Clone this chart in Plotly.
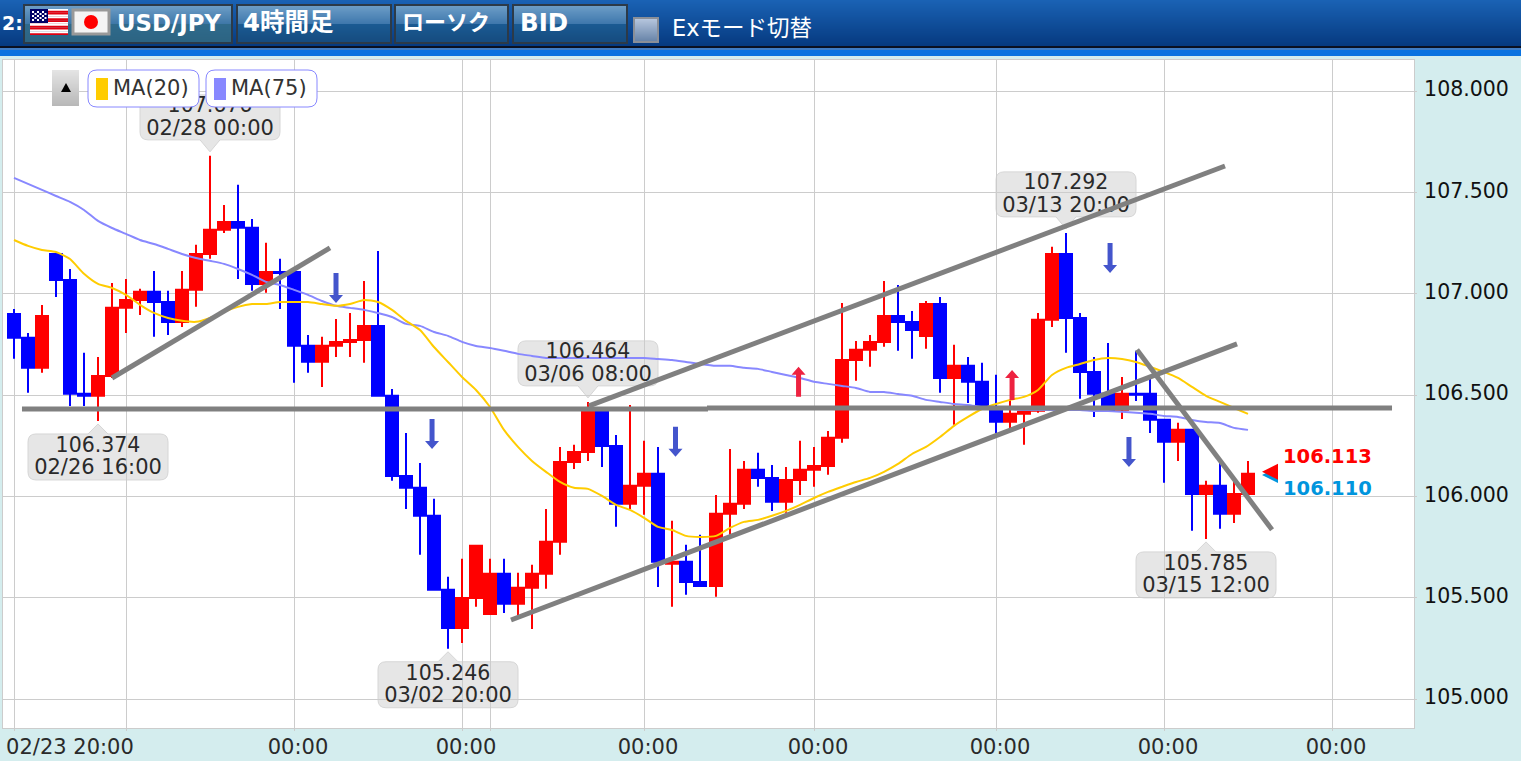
import plotly.graph_objects as go

# ---------- data ----------
HIGH = [106.925,106.806,106.944,107.201,107.122,106.708,106.688,107.053,107.073,107.024,
        107.112,107.014,107.112,107.241,107.680,107.438,107.537,107.369,107.251,107.172,
        107.112,106.796,106.787,106.875,106.905,107.063,107.211,106.530,106.313,106.165,
        105.988,105.603,105.692,105.761,105.692,105.692,105.623,105.662,105.938,106.244,
        106.254,106.466,106.420,106.303,106.451,106.274,106.244,105.879,105.761,105.810,
        106.007,106.234,106.175,106.215,106.155,106.145,106.274,106.244,106.323,106.954,
        106.767,106.796,107.063,107.043,106.915,106.964,106.984,106.748,106.688,106.659,
        106.600,106.476,106.442,106.905,107.231,107.300,106.905,106.688,106.757,106.589,
        106.718,106.580,106.378,106.363,106.328,106.077,106.165,106.077,106.175]
LOW = [106.679,106.511,106.610,106.984,106.446,106.446,106.372,106.584,106.806,106.895,
       106.787,106.796,106.836,106.935,107.172,107.300,107.073,107.014,107.004,106.925,
       106.560,106.610,106.540,106.688,106.688,106.659,106.491,106.077,105.938,105.712,
       105.534,105.248,105.277,105.455,105.415,105.425,105.415,105.346,105.544,105.712,
       106.135,106.175,106.145,105.850,105.938,105.909,105.553,105.455,105.514,105.553,
       105.504,105.810,105.938,106.047,105.928,105.919,106.007,106.047,106.106,106.264,
       106.570,106.639,106.738,106.718,106.679,106.728,106.511,106.353,106.461,106.432,
       106.313,106.333,106.254,106.412,106.836,106.708,106.481,106.392,106.417,106.382,
       106.471,106.313,106.067,106.175,105.830,105.790,105.840,105.869,106.007]
OPEN = [106.900,106.782,106.634,107.196,107.068,106.506,106.496,106.594,106.930,106.969,
        107.009,106.959,106.860,107.019,107.196,107.315,107.354,107.325,107.048,107.107,
        107.107,106.743,106.664,106.743,106.762,106.772,106.841,106.496,106.101,106.042,
        105.904,105.539,105.351,105.499,105.420,105.618,105.470,105.549,105.618,105.776,
        106.170,106.219,106.417,106.249,105.963,106.052,106.111,105.667,105.677,105.578,
        105.558,105.914,105.963,106.131,106.091,105.973,106.081,106.131,106.150,106.289,
        106.673,106.723,106.762,106.890,106.860,106.791,106.949,106.584,106.644,106.565,
        106.437,106.368,106.407,106.422,106.871,107.196,106.880,106.614,106.506,106.427,
        106.506,106.506,106.378,106.269,106.328,106.012,106.052,105.914,106.012]
CLOSE = [106.782,106.634,106.890,107.068,106.506,106.496,106.594,106.930,106.969,107.009,
         106.959,106.860,107.019,107.196,107.315,107.354,107.325,107.048,107.107,107.102,
         106.743,106.664,106.743,106.762,106.772,106.841,106.496,106.101,106.042,105.904,
         105.539,105.351,105.499,105.756,105.618,105.470,105.549,105.618,105.776,106.170,
         106.219,106.417,106.249,105.963,106.052,106.111,105.677,105.677,105.578,105.558,
         105.914,105.963,106.131,106.091,105.973,106.081,106.131,106.150,106.289,106.673,
         106.723,106.762,106.890,106.860,106.821,106.949,106.584,106.644,106.565,106.437,
         106.368,106.407,106.417,106.871,107.196,106.880,106.614,106.506,106.422,106.506,
         106.501,106.378,106.269,106.328,106.012,106.052,105.914,106.012,106.111]
MA20 = [107.265,107.236,107.216,107.206,107.171,107.098,107.048,107.028,106.994,106.945,
        106.905,106.880,106.866,106.861,106.880,106.910,106.935,106.949,106.949,106.959,
        106.959,106.959,106.949,106.940,106.949,106.969,106.959,106.920,106.866,106.821,
        106.737,106.663,106.589,106.525,106.441,106.328,106.244,106.175,106.121,106.071,
        106.042,106.037,106.002,105.958,105.933,105.894,105.849,105.834,105.805,105.800,
        105.805,105.844,105.874,105.884,105.904,105.928,105.958,105.992,106.022,106.047,
        106.071,106.091,106.121,106.160,106.209,106.244,106.293,106.348,106.392,106.431,
        106.456,106.476,106.491,106.525,106.599,106.634,106.653,106.673,106.683,106.678,
        106.663,106.639,106.614,106.584,106.540,106.496,106.466,106.436,106.407]
MA75 = [107.571,107.542,107.512,107.482,107.453,107.413,107.359,107.324,107.295,107.265,
        107.245,107.221,107.196,107.176,107.162,107.147,107.122,107.093,107.058,107.043,
        107.019,106.994,106.964,106.940,106.930,106.920,106.905,106.885,106.851,106.841,
        106.811,106.792,106.762,106.742,106.732,106.718,106.703,106.693,106.683,106.683,
        106.683,106.683,106.683,106.683,106.683,106.683,106.678,106.673,106.663,106.653,
        106.644,106.644,106.634,106.629,106.614,106.599,106.584,106.565,106.555,106.545,
        106.535,106.515,106.515,106.505,106.496,106.476,106.466,106.456,106.451,106.441,
        106.436,106.431,106.426,106.426,106.426,106.426,106.426,106.421,106.421,106.417,
        106.412,106.407,106.397,106.392,106.377,106.367,106.362,106.338,106.328]

WEEK_START = 50                 # first candle after the weekend gap
GRID_CANDLES = [0, 8, 20, 32, 34, 45, 57, 70, 82, 94]
LABEL_CANDLES = [3.71, 20, 32, 45, 57, 70, 82, 94]
LABEL_TEXT = ["02/23 20:00", "00:00", "00:00", "00:00", "00:00", "00:00", "00:00", "00:00"]
Y_TICKS = [105.0, 105.5, 106.0, 106.5, 107.0, 107.5, 108.0]

# x1, price1, x2, price2 in candle slots
TREND_LINES = [(7.0, 106.584, 22.57, 107.226),
               (41.07, 106.446, 86.5, 107.630),
               (35.5, 105.390, 87.36, 106.752),
               (80.21, 106.723, 89.86, 105.835)]
LEVEL_LINES = [(0.57, 106.431, 49.57, 106.431),
               (49.5, 106.436, 98.43, 106.436)]
DOWN_ARROWS = [(23.0, 106.954), (29.86, 106.234), (47.25, 106.195), (78.29, 107.102), (79.64, 106.145)]
UP_ARROWS = [(56.04, 106.639), (71.29, 106.624)]

HIGH_CALLOUTS = [(14, "107.676", "02/28 00:00"), (41, "106.464", "03/06 08:00"), (75, "107.292", "03/13 20:00")]
LOW_CALLOUTS = [(6, "106.374", "02/26 16:00"), (31, "105.246", "03/02 20:00"), (85, "105.785", "03/15 12:00")]
ASK, BID = 106.113, 106.110

# ---------- geometry / style ----------
W, H = 1521, 761
L, R, T, B = 3, 1414, 60, 728
YMIN, YMAX = 104.857, 108.153
PX_PER_PRICE = (B - T) / (YMAX - YMIN)
FONT = "DejaVu Sans, Noto Sans CJK JP, sans-serif"
BG = "#D4EDEE"

def slot(i):
    return i + (1 / 7 if i >= WEEK_START else 0)

def px(x):
    return (x - L) / (R - L)

def py(y):
    return (B - y) / (B - T)

def hex_mix(a, b, t):
    ca = [int(a[i:i + 2], 16) for i in (1, 3, 5)]
    cb = [int(b[i:i + 2], 16) for i in (1, 3, 5)]
    return "#%02x%02x%02x" % tuple(round(u + (v - u) * t) for u, v in zip(ca, cb))

shapes = []
annotations = []

def rect(x0, y0, x1, y1, fill, line=None, lw=0):
    shapes.append(dict(type="rect", xref="paper", yref="paper", x0=px(x0), x1=px(x1), y0=py(y0), y1=py(y1),
                       fillcolor=fill, line=dict(color=line or fill, width=lw)))

def grad(x0, y0, x1, y1, c0, c1):
    y = y0
    while y < y1:
        t = (y - y0) / max(1, y1 - y0 - 1)
        rect(x0, y, x1, min(y + 1, y1), hex_mix(c0, c1, t))
        y += 1

def label(text, x, y, size, color="#ffffff", bold=False, anchor="left"):
    annotations.append(dict(text=text, xref="paper", yref="paper", x=px(x), y=py(y), showarrow=False,
                            xanchor=anchor, yanchor="middle", align=anchor,
                            font=dict(family=FONT, size=size, color=color, weight=700 if bold else 400)))

def round_rect_path(x0, y0, x1, y1, r):
    X0, X1, Y0, Y1 = px(x0), px(x1), py(y0), py(y1)
    rx, ry = r / (R - L), r / (B - T)
    return (f"M{X0+rx},{Y0} L{X1-rx},{Y0} Q{X1},{Y0} {X1},{Y0-ry} L{X1},{Y1+ry} Q{X1},{Y1} {X1-rx},{Y1} "
            f"L{X0+rx},{Y1} Q{X0},{Y1} {X0},{Y1+ry} L{X0},{Y0-ry} Q{X0},{Y0} {X0+rx},{Y0} Z")

# ---------- callout bubbles (under the traces) ----------
def bubble(i, price, above):
    s = 1 if above else -1
    hw, r, tip, edge, far = 70, 8, 4, 16, 61
    if not above:
        tip, edge, far = 3, 13, 59
    p = (f"M0,{s*tip} L10,{s*edge} L{hw-r},{s*edge} Q{hw},{s*edge} {hw},{s*(edge+r)} L{hw},{s*(far-r)} "
         f"Q{hw},{s*far} {hw-r},{s*far} L{-hw+r},{s*far} Q{-hw},{s*far} {-hw},{s*(far-r)} L{-hw},{s*(edge+r)} "
         f"Q{-hw},{s*edge} {-hw+r},{s*edge} L-10,{s*edge} Z")
    shapes.append(dict(type="path", layer="below", xref="x", yref="y", xsizemode="pixel", ysizemode="pixel",
                       xanchor=slot(i), yanchor=price, path=p, fillcolor="#e6e6e6",
                       line=dict(color="#d6d6d6", width=1)))

text_x, text_y, text_s, text_size = [], [], [], []
for i, v, d in HIGH_CALLOUTS:
    bubble(i, HIGH[i], True)
    text_x += [slot(i), slot(i)]
    text_y += [HIGH[i] + 49 / PX_PER_PRICE, HIGH[i] + 26 / PX_PER_PRICE]
    text_s += [v, d]
    text_size += [20.5, 21]
for i, v, d in LOW_CALLOUTS:
    bubble(i, LOW[i], False)
    text_x += [slot(i), slot(i)]
    text_y += [LOW[i] - 26 / PX_PER_PRICE, LOW[i] - 48 / PX_PER_PRICE]
    text_s += [v, d]
    text_size += [20.5, 21]

# ---------- traces ----------
slots = [slot(i) for i in range(len(OPEN))]
fig = go.Figure()
fig.add_trace(go.Candlestick(x=slots, open=OPEN, high=HIGH, low=LOW, close=CLOSE, whiskerwidth=0,
                             increasing=dict(line=dict(color="#ff0000", width=2), fillcolor="#ff0000"),
                             decreasing=dict(line=dict(color="#0000ff", width=2), fillcolor="#0000ff"),
                             showlegend=False, hoverinfo="skip"))
fig.add_trace(go.Scatter(x=slots, y=MA75, mode="lines", line=dict(color="#8888ff", width=2, shape="spline", smoothing=0.6),
                         showlegend=False, hoverinfo="skip"))
fig.add_trace(go.Scatter(x=slots, y=MA20, mode="lines", line=dict(color="#ffcc00", width=2, shape="spline", smoothing=0.6),
                         showlegend=False, hoverinfo="skip"))
fig.add_trace(go.Scatter(x=text_x, y=text_y, text=text_s, mode="text", textposition="middle center",
                         textfont=dict(family=FONT, size=text_size, color="#2a2a2a"), showlegend=False, hoverinfo="skip"))

# ---------- trend lines ----------
for x0, y0, x1, y1 in TREND_LINES:
    shapes.append(dict(type="line", xref="x", yref="y", x0=x0, y0=y0, x1=x1, y1=y1, line=dict(color="#808080", width=5)))
for x0, y0, x1, y1 in LEVEL_LINES:
    shapes.append(dict(type="line", xref="x", yref="y", x0=x0, y0=y0, x1=x1, y1=y1, line=dict(color="#808080", width=5)))

# ---------- signal arrows ----------
def arrow(x, price, down, color):
    s = 1 if down else -1
    p = (f"M0,0 L7,{s*8} L2.5,{s*8} L2.5,{s*30} L-2.5,{s*30} L-2.5,{s*8} L-7,{s*8} Z")
    shapes.append(dict(type="path", xref="x", yref="y", xsizemode="pixel", ysizemode="pixel", xanchor=x, yanchor=price,
                       path=p, fillcolor=color, line=dict(width=0)))

for x, p in DOWN_ARROWS:
    arrow(x, p, True, "#4455cc")
for x, p in UP_ARROWS:
    arrow(x, p, False, "#ee2240")

# ---------- last price marker ----------
last_slot = slot(len(OPEN) - 1)
for price, col, dy in ((BID, "#0095dd", -1), (ASK, "#ff0000", 1.6)):
    shapes.append(dict(type="path", xref="x", yref="y", xsizemode="pixel", ysizemode="pixel", xanchor=last_slot, yanchor=price,
                       path=f"M14,{dy} L30,{dy+8} L30,{dy-8} Z", fillcolor=col, line=dict(width=0)))
for val, col, shift in ((ASK, "#ff0000", 17), (BID, "#0095dd", -14)):
    annotations.append(dict(text=f"{val:.3f}", xref="x", yref="y", x=last_slot, y=val, xshift=33, yshift=shift, showarrow=False,
                            xanchor="left", yanchor="middle", font=dict(family=FONT, size=19.5, color=col, weight=700)))

# ---------- header ----------
grad(0, 0, W, 46, "#1a62b4", "#063a80")
rect(0, 46, W, 48, "#0a1020")
rect(0, 48, W, 50, "#3f7cc4")
rect(0, 50, W, 56, "#0a72e0")

def button(x0, x1, top_a, top_b, low_a, low_b):
    rect(x0, 4, x1, 44, "#2c3a48")
    grad(x0 + 2, 6, x1 - 2, 24, top_a, top_b)
    grad(x0 + 2, 24, x1 - 2, 42, low_a, low_b)

button(23, 233, "#6b9cc6", "#3f78a8", "#2f6a8c", "#2c6482")
button(236, 392, "#6b9cc6", "#3f78ad", "#1a5a92", "#164c80")
button(394, 509, "#6b9cc6", "#3f78ad", "#1a5a92", "#164c80")
button(512, 628, "#6b9cc6", "#3f78ad", "#1a5a92", "#164c80")

# flags
for k in range(7):
    rect(30, 9 + k * 26 / 7, 68, 9 + (k + 1) * 26 / 7, "#e00010" if k % 2 else "#ffffff")
    rect(30, 9 + (k + 0.5) * 26 / 7, 68, 9 + (k + 1) * 26 / 7, "#ffffff" if k % 2 else "#e00010")
rect(30, 9, 48, 23, "#000066")
for a in range(6):
    for b in range(5):
        if (a + b) % 2 == 0:
            rect(32 + a * 2.5, 11 + b * 2, 34 + a * 2.5, 13 + b * 2, "#ffffff")
rect(73, 10, 109, 34, "#f4f4f4", "#999999", 3)
shapes.append(dict(type="circle", xref="paper", yref="paper", x0=px(84), x1=px(98), y0=py(15), y1=py(29),
                   fillcolor="#ff0000", line=dict(width=0)))
# check box
rect(633, 17, 659, 43, "#8a8f98")
grad(635, 19, 657, 41, "#b4c4dc", "#6a86aa")

label("2:", 0, 23, 19, bold=True)
label("USD/JPY", 115, 23, 22.8, bold=True)
label("4時間足", 241, 23, 24.5, bold=True)
label("ローソク", 400, 23, 22, bold=True)
label("BID", 518, 23, 24.5, bold=True)
label("Exモード切替", 670, 28, 22.5)

# ---------- MA chips and collapse button ----------
grad(52, 70, 79, 106, "#e4e4e4", "#b8b8b8")
shapes.append(dict(type="path", xref="paper", yref="paper",
                   path=f"M{px(66)},{py(83)} L{px(71)},{py(92)} L{px(61)},{py(92)} Z", fillcolor="#000000", line=dict(width=0)))
for x0, x1, col, name in ((88, 199, "#ffcc00", "MA(20)"), (206, 317, "#8888ff", "MA(75)")):
    shapes.append(dict(type="path", xref="paper", yref="paper", path=round_rect_path(x0, 70, x1, 107, 9),
                       fillcolor="#ffffff", line=dict(color="#8888ff", width=1)))
    rect(x0 + 8, 78, x0 + 20, 100, col)
    label(name, x0 + 23, 88, 21, color="#333333")

# ---------- layout ----------
fig.update_layout(
    width=W, height=H, autosize=False, margin=dict(l=L, r=W - R, t=T, b=H - B),
    paper_bgcolor=BG, plot_bgcolor="#ffffff", boxgap=1 / 7, boxgroupgap=0, hovermode=False, showlegend=False,
    shapes=shapes, annotations=annotations, font=dict(family=FONT),
    xaxis=dict(range=[(L - 14) / 14, (R - 14) / 14], rangeslider=dict(visible=False), tickmode="array",
               tickvals=[slot(i) for i in LABEL_CANDLES], ticktext=LABEL_TEXT, showgrid=False,
               minor=dict(tickmode="array", tickvals=[slot(i) for i in GRID_CANDLES], showgrid=True,
                          gridcolor="#cccccc", gridwidth=1, ticks="outside", ticklen=2, tickcolor="#cccccc"),
               showline=True, linecolor="#cccccc", mirror=True, ticks="", ticklen=2,
               tickfont=dict(family=FONT, size=21, color="#2a2a2a"), ticklabelshift=4, zeroline=False),
    yaxis=dict(range=[YMIN, YMAX], side="right", tickmode="array", tickvals=Y_TICKS, tickformat=".3f",
               gridcolor="#cccccc", gridwidth=1, showline=True, linecolor="#cccccc", mirror=True,
               ticks="outside", ticklen=2, tickcolor="#cccccc", ticklabelstandoff=3, ticklabelshift=-2,
               tickfont=dict(family=FONT, size=20.5, color="#111111"), zeroline=False),
)

fig.write_html("out.html", config=dict(displayModeBar=False), post_script="document.body.style.margin='0';")
